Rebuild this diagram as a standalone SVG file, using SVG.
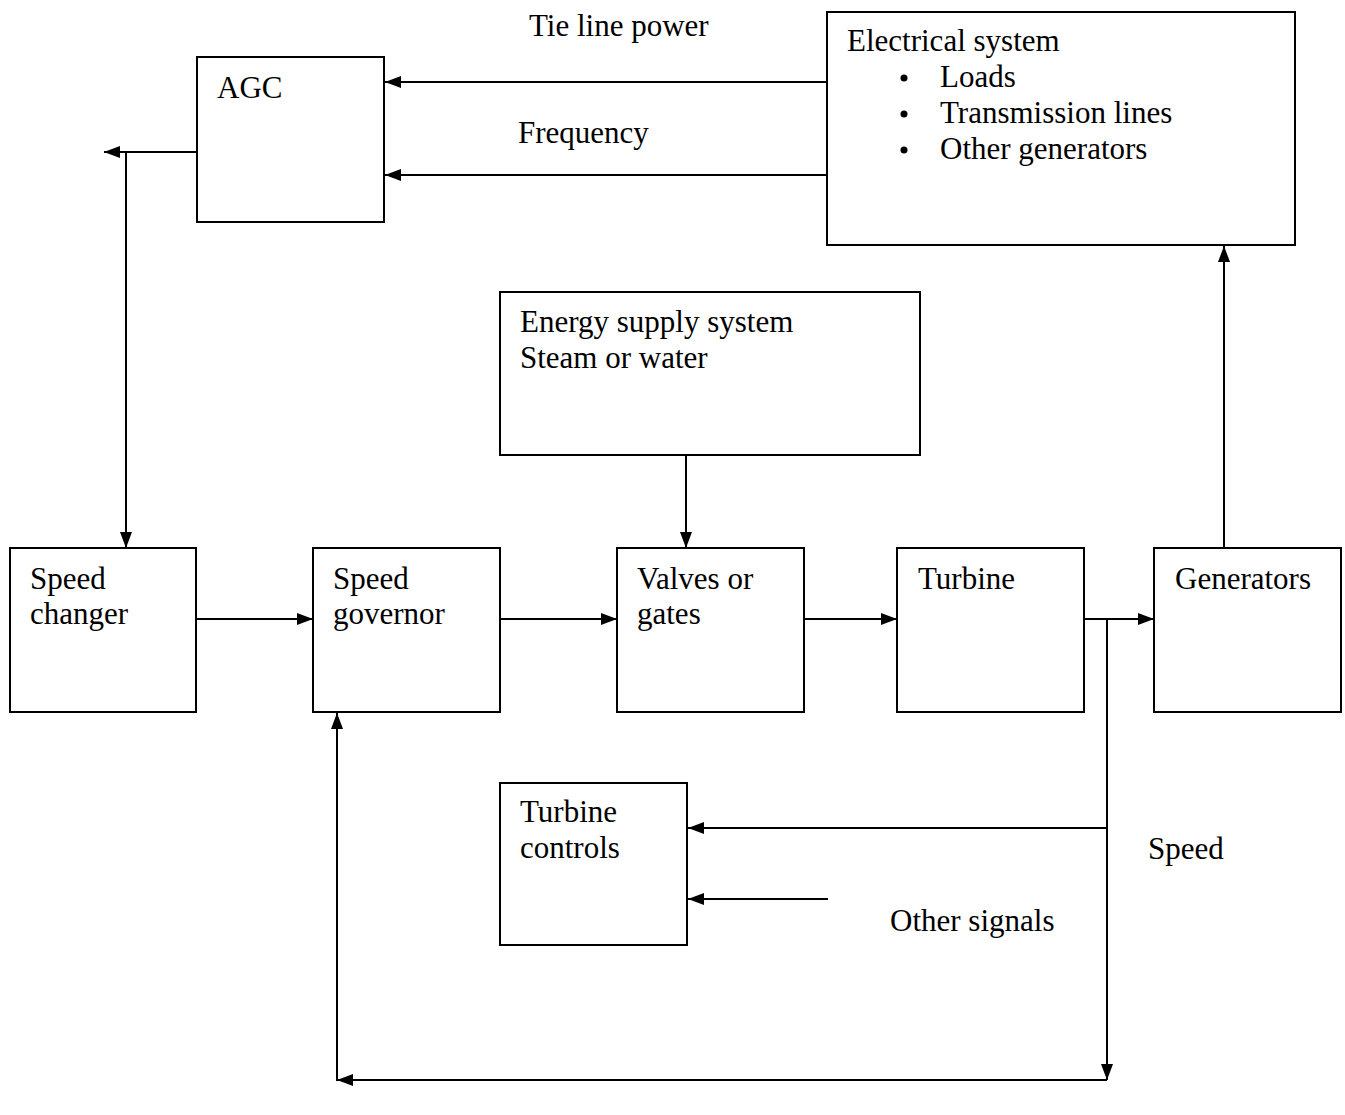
<svg xmlns="http://www.w3.org/2000/svg" width="1345" height="1115" viewBox="0 0 1345 1115">
<style>
.box{fill:#fff;stroke:#000;stroke-width:2}
.ln{fill:none;stroke:#000;stroke-width:2}
text{font-family:"Liberation Serif","Times New Roman",serif;font-size:31px;fill:#000}
</style>
<defs>
<marker id="ah" viewBox="0 0 16 12" refX="16" refY="6" markerWidth="16" markerHeight="12" markerUnits="userSpaceOnUse" orient="auto">
<path d="M0,0 L16,6 L0,12 Z" fill="#000"/>
</marker>
</defs>
<rect width="1345" height="1115" fill="#fff"/>
<g id="connectors">
<line class="ln" x1="827" y1="82" x2="385" y2="82" marker-end="url(#ah)"/>
<line class="ln" x1="827" y1="175" x2="385" y2="175" marker-end="url(#ah)"/>
<line class="ln" x1="197" y1="152" x2="104" y2="152" marker-end="url(#ah)"/>
<line class="ln" x1="126" y1="152" x2="126" y2="548" marker-end="url(#ah)"/>
<line class="ln" x1="197" y1="619" x2="313" y2="619" marker-end="url(#ah)"/>
<line class="ln" x1="501" y1="619" x2="617" y2="619" marker-end="url(#ah)"/>
<line class="ln" x1="805" y1="619" x2="897" y2="619" marker-end="url(#ah)"/>
<line class="ln" x1="1085" y1="619" x2="1154" y2="619" marker-end="url(#ah)"/>
<line class="ln" x1="686" y1="456" x2="686" y2="548" marker-end="url(#ah)"/>
<line class="ln" x1="1224" y1="548" x2="1224" y2="246" marker-end="url(#ah)"/>
<line class="ln" x1="1107" y1="619" x2="1107" y2="1080" marker-end="url(#ah)"/>
<line class="ln" x1="1107" y1="828" x2="688" y2="828" marker-end="url(#ah)"/>
<line class="ln" x1="828" y1="899" x2="688" y2="899" marker-end="url(#ah)"/>
<polyline class="ln" points="1107,1080 337,1080 337,713" marker-end="url(#ah)"/>
<line class="ln" x1="355" y1="1080" x2="337" y2="1080" marker-end="url(#ah)"/>
</g>
<g id="label-tie"><text x="529" y="36">Tie line power</text></g>
<g id="label-freq"><text x="518" y="143">Frequency</text></g>
<g id="label-speed"><text x="1148" y="859">Speed</text></g>
<g id="label-other"><text x="890" y="931">Other signals</text></g>
<g id="agc"><rect class="box" x="197" y="57" width="187" height="165"/><text x="217" y="98">AGC</text></g>
<g id="electrical"><rect class="box" x="827" y="12" width="468" height="233"/>
<text x="847" y="51">Electrical system</text>
<circle cx="904" cy="78" r="3.5"/><text x="940" y="87">Loads</text>
<circle cx="904" cy="114" r="3.5"/><text x="940" y="123">Transmission lines</text>
<circle cx="904" cy="150" r="3.5"/><text x="940" y="159">Other generators</text>
</g>
<g id="energy"><rect class="box" x="500" y="292" width="420" height="163"/><text x="520" y="332">Energy supply system</text><text x="520" y="368">Steam or water</text></g>
<g id="speedchanger"><rect class="box" x="10" y="548" width="186" height="164"/><text x="30" y="589">Speed</text><text x="30" y="624">changer</text></g>
<g id="governor"><rect class="box" x="313" y="548" width="187" height="164"/><text x="333" y="589">Speed</text><text x="333" y="624">governor</text></g>
<g id="valves"><rect class="box" x="617" y="548" width="187" height="164"/><text x="637" y="589">Valves or</text><text x="637" y="624">gates</text></g>
<g id="turbine"><rect class="box" x="897" y="548" width="187" height="164"/><text x="918" y="589">Turbine</text></g>
<g id="generators"><rect class="box" x="1154" y="548" width="187" height="164"/><text x="1175" y="589">Generators</text></g>
<g id="turbinecontrols"><rect class="box" x="500" y="783" width="187" height="162"/><text x="520" y="822">Turbine</text><text x="520" y="858">controls</text></g>
</svg>
